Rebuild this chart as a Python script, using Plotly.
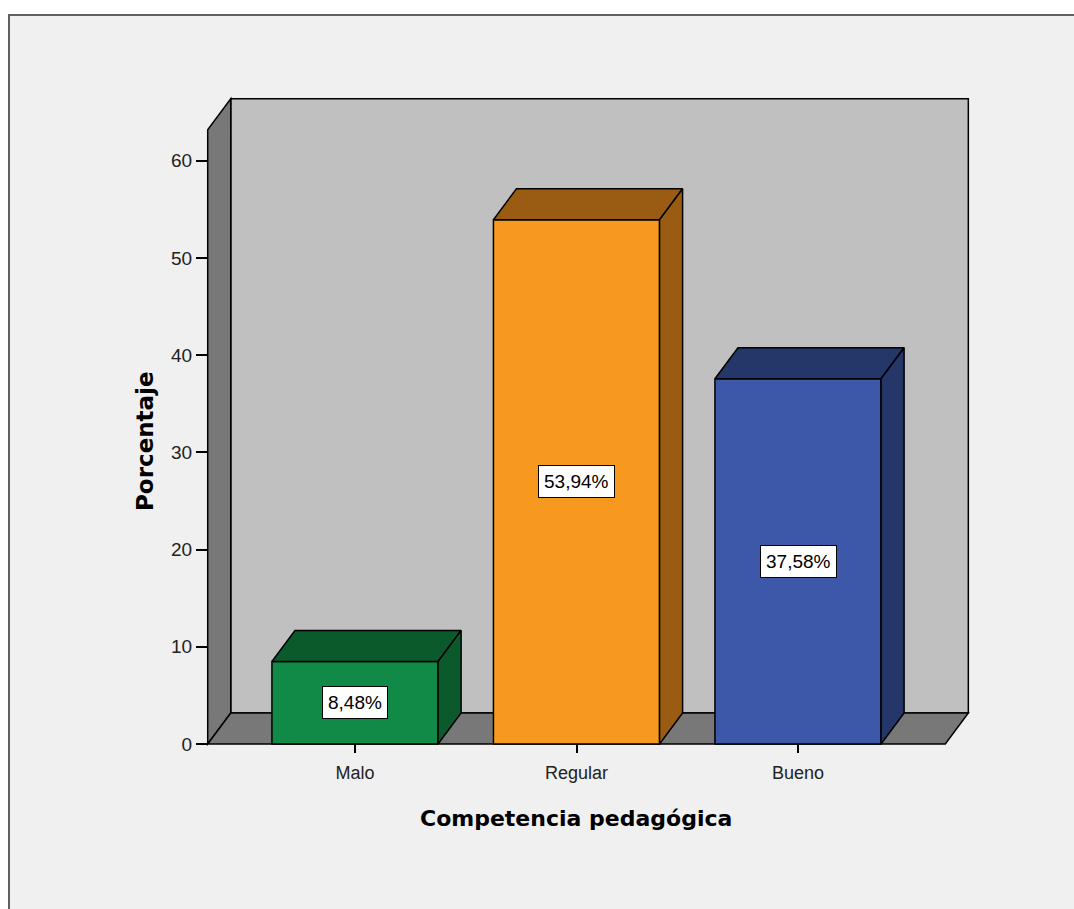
import plotly.graph_objects as go

# Datos: distribución porcentual de la competencia pedagógica
categorias = ["Malo", "Regular", "Bueno"]
porcentajes = [8.48, 53.94, 37.58]
colores_frente = ["#108a46", "#f7991e", "#3d58a9"]
colores_sombra = ["#0a5a2c", "#9a5c12", "#253669"]
ticks_y = [0, 10, 20, 30, 40, 50, 60]

# Geometría de la caja 3D (en unidades de los ejes)
ANCHO = 0.75          # ancho de cada barra
DX, DY = 0.104, 3.19  # desplazamiento de profundidad
X_LO, X_HI = -0.665, 2.665
Y_TOP = 63.2

# Área de trazado en píxeles
L, R, T, B = 200, 974, 94, 750
FIG_W, FIG_H = 1074, 909
PX_X = 221.5  # píxeles por categoría
PX_Y = 9.72   # píxeles por unidad de porcentaje
X0_PX, Y0_PX = 355, 744
x_range = [(L - X0_PX) / PX_X, (R - X0_PX) / PX_X]
y_range = [-(B - Y0_PX) / PX_Y, (Y0_PX - T) / PX_Y]

fig = go.Figure()

# Caras frontales de las barras
fig.add_trace(go.Bar(
    x=list(range(len(categorias))), y=porcentajes, width=ANCHO,
    marker=dict(color=colores_frente, line=dict(color="black", width=1.5)),
    hoverinfo="skip", showlegend=False,
))

# Caras superior y lateral de cada barra
for i, (v, cs) in enumerate(zip(porcentajes, colores_sombra)):
    xl, xr = i - ANCHO / 2, i + ANCHO / 2
    fig.add_trace(go.Scatter(
        x=[xl, xr, xr + DX, xl + DX, xl], y=[v, v, v + DY, v + DY, v],
        fill="toself", fillcolor=cs, mode="lines",
        line=dict(color="black", width=1.5), hoverinfo="skip", showlegend=False,
    ))
    fig.add_trace(go.Scatter(
        x=[xr, xr + DX, xr + DX, xr, xr], y=[0, DY, v + DY, v, 0],
        fill="toself", fillcolor=cs, mode="lines",
        line=dict(color="black", width=1.5), hoverinfo="skip", showlegend=False,
    ))

wall_line = dict(color="black", width=1.5)
shapes = [
    # marco exterior
    dict(type="rect", xref="paper", yref="paper",
         x0=(9 - L) / (R - L), x1=(1090 - L) / (R - L),
         y0=(B - 925) / (B - T), y1=(B - 15) / (B - T),
         fillcolor="#f0f0f0", line=dict(color="#606060", width=2), layer="below"),
    # pared del fondo
    dict(type="rect", xref="x", yref="y", x0=X_LO + DX, x1=X_HI + DX,
         y0=DY, y1=Y_TOP + DY, fillcolor="#c0c0c0", line=wall_line, layer="below"),
    # pared izquierda
    dict(type="path", xref="x", yref="y",
         path=f"M {X_LO},0 L {X_LO},{Y_TOP} L {X_LO + DX},{Y_TOP + DY} L {X_LO + DX},{DY} Z",
         fillcolor="#787878", line=wall_line, layer="below"),
    # suelo
    dict(type="path", xref="x", yref="y",
         path=f"M {X_LO},0 L {X_HI},0 L {X_HI + DX},{DY} L {X_LO + DX},{DY} Z",
         fillcolor="#787878", line=wall_line, layer="below"),
]

annotations = []
for i, v in enumerate(porcentajes):
    annotations.append(dict(
        x=i, y=v / 2, xref="x", yref="y", showarrow=False,
        text=f"{v:.2f}%".replace(".", ","),
        font=dict(family="Liberation Sans, Arial", size=19, color="black"),
        bgcolor="white", bordercolor="black", borderwidth=1, borderpad=5,
    ))

# Títulos de los ejes
annotations.append(dict(
    x=(576 - L) / (R - L), y=(B - 818) / (B - T), xref="paper", yref="paper",
    xanchor="center", yanchor="middle",
    text="<b>Competencia pedagógica</b>", showarrow=False,
    font=dict(family="DejaVu Sans, Arial", size=22, color="black"),
))
annotations.append(dict(
    x=(145 - L) / (R - L), y=(B - 441) / (B - T), xref="paper", yref="paper",
    xanchor="center", yanchor="middle",
    text="<b>Porcentaje</b>", showarrow=False, textangle=-90,
    font=dict(family="DejaVu Sans, Arial", size=23, color="black"),
))

fig.update_layout(
    width=FIG_W, height=FIG_H,
    margin=dict(l=L, r=FIG_W - R, t=T, b=FIG_H - B),
    paper_bgcolor="white", plot_bgcolor="#f0f0f0",
    shapes=shapes, annotations=annotations,
    xaxis=dict(
        range=x_range, tickvals=list(range(len(categorias))), ticktext=categorias,
        ticks="outside", ticklen=8, tickwidth=2, tickcolor="black",
        ticklabelstandoff=4,
        showgrid=False, zeroline=False, showline=False,
        anchor="free", position=(B - Y0_PX) / (B - T),
        tickfont=dict(family="Liberation Sans, Arial", size=18, color="#222"),
        fixedrange=True,
    ),
    yaxis=dict(
        range=y_range, tickvals=ticks_y,
        ticks="outside", ticklen=12, tickwidth=2, tickcolor="black",
        showgrid=False, zeroline=False, showline=False,
        anchor="free", position=(208 - L) / (R - L),
        tickfont=dict(family="Liberation Sans, Arial", size=19, color="#222"),
        fixedrange=True,
    ),
    showlegend=False,
)

fig.write_html("out.html")
